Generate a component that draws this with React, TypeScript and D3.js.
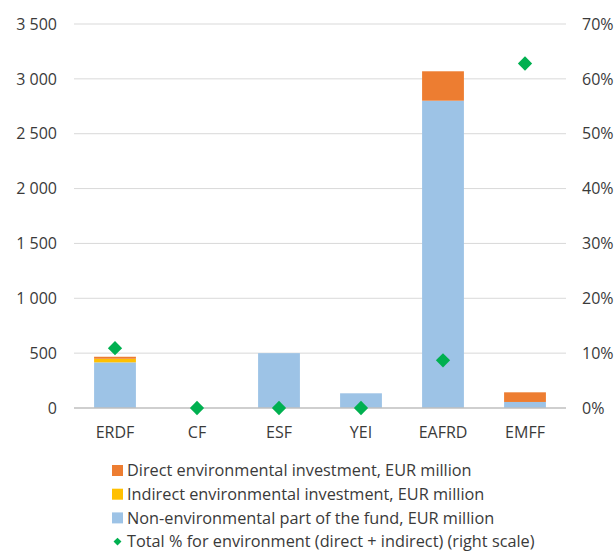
import React from "react";
import * as d3 from "d3";

const categories = ["ERDF", "CF", "ESF", "YEI", "EAFRD", "EMFF"];
const nonEnvironmental = [416, 0, 500, 134, 2801, 55];
const indirectEnv = [33, 0, 0, 0, 0, 0];
const directEnv = [18, 0, 0, 0, 268, 88];
const totalPct = [0.109, 0, 0, 0, 0.087, 0.628];
const leftTicks = [0, 500, 1000, 1500, 2000, 2500, 3000, 3500];
const rightTicks = [0, 0.1, 0.2, 0.3, 0.4, 0.5, 0.6, 0.7];

const seriesKeys = ["non", "indirect", "direct"];
const colors: Record<string, string> = {
  non: "#9DC3E6",
  indirect: "#FFC000",
  direct: "#ED7D31",
};
const green = "#00B050";
const legendItems = [
  { label: "Direct environmental investment, EUR million", color: colors.direct, type: "rect" },
  { label: "Indirect environmental investment, EUR million", color: colors.indirect, type: "rect" },
  { label: "Non-environmental part of the fund, EUR million", color: colors.non, type: "rect" },
  { label: "Total % for environment (direct + indirect) (right scale)", color: green, type: "diamond" },
];

const W = 616;
const H = 552;
const left = 74;
const right = 566;
const top = 24;
const bottom = 408;
const font = "'Open Sans', 'Noto Sans', sans-serif";
const textColor = "#3A3A3A";

function fmt(v: number) {
  return d3.format(",")(v).replace(/,/g, " ");
}

export default function App() {
  const x = d3.scaleBand<string>().domain(categories).range([left, right]).paddingInner(0.49).paddingOuter(0.245);
  const yL = d3.scaleLinear().domain([0, 3500]).range([bottom, top]);
  const yR = d3.scaleLinear().domain([0, 0.7]).range([bottom, top]);

  const table = categories.map((c, i) => ({
    cat: c,
    non: nonEnvironmental[i],
    indirect: indirectEnv[i],
    direct: directEnv[i],
  }));
  const stacked = d3.stack<any>().keys(seriesKeys)(table);
  const diamond = d3.symbol().type(d3.symbolDiamond2).size(130)();
  const diamondSmall = d3.symbol().type(d3.symbolDiamond2).size(40)();

  return (
    <svg width={W} height={H} style={{ position: "absolute", left: 0, top: 0, background: "#fff" }} fontFamily={font}>
      {leftTicks.map((t) => (
        <g key={t}>
          {t > 0 && <line x1={left} x2={right} y1={yL(t)} y2={yL(t)} stroke="#D9D9D9" strokeWidth={1} />}
          <text x={57} y={yL(t)} dy="0.36em" textAnchor="end" fontSize={16} fill={textColor}>
            {fmt(t)}
          </text>
        </g>
      ))}
      {rightTicks.map((t) => (
        <text key={t} x={582} y={yR(t)} dy="0.36em" textAnchor="start" fontSize={16} fill={textColor}>
          {d3.format(".0%")(t)}
        </text>
      ))}
      {stacked.map((s) => (
        <g key={s.key} fill={colors[s.key]}>
          {s.map((d, i) => (
            <rect
              key={i}
              x={x(categories[i])}
              width={x.bandwidth()}
              y={yL(d[1])}
              height={Math.max(0, yL(d[0]) - yL(d[1]))}
            />
          ))}
        </g>
      ))}
      <line x1={left} x2={right} y1={bottom} y2={bottom} stroke="#BFBFBF" strokeWidth={1.5} />
      {categories.map((c) => (
        <text key={c} x={(x(c) as number) + x.bandwidth() / 2} y={432} dy="0.36em" textAnchor="middle" fontSize={16} fill={textColor}>
          {c}
        </text>
      ))}
      {totalPct.map((p, i) => (
        <path
          key={i}
          d={diamond as string}
          transform={`translate(${(x(categories[i]) as number) + x.bandwidth() / 2},${yR(p)})`}
          fill={green}
        />
      ))}
      {legendItems.map((it, i) => {
        const cy = 470.5 + i * 23.7;
        return (
          <g key={it.label}>
            {it.type === "rect" ? (
              <rect x={112} y={cy - 5.5} width={11} height={11} fill={it.color} />
            ) : (
              <path d={diamondSmall as string} transform={`translate(117.5,${cy})`} fill={it.color} />
            )}
            <text x={127} y={cy} dy="0.36em" fontSize={16.3} fill={textColor}>
              {it.label}
            </text>
          </g>
        );
      })}
    </svg>
  );
}
